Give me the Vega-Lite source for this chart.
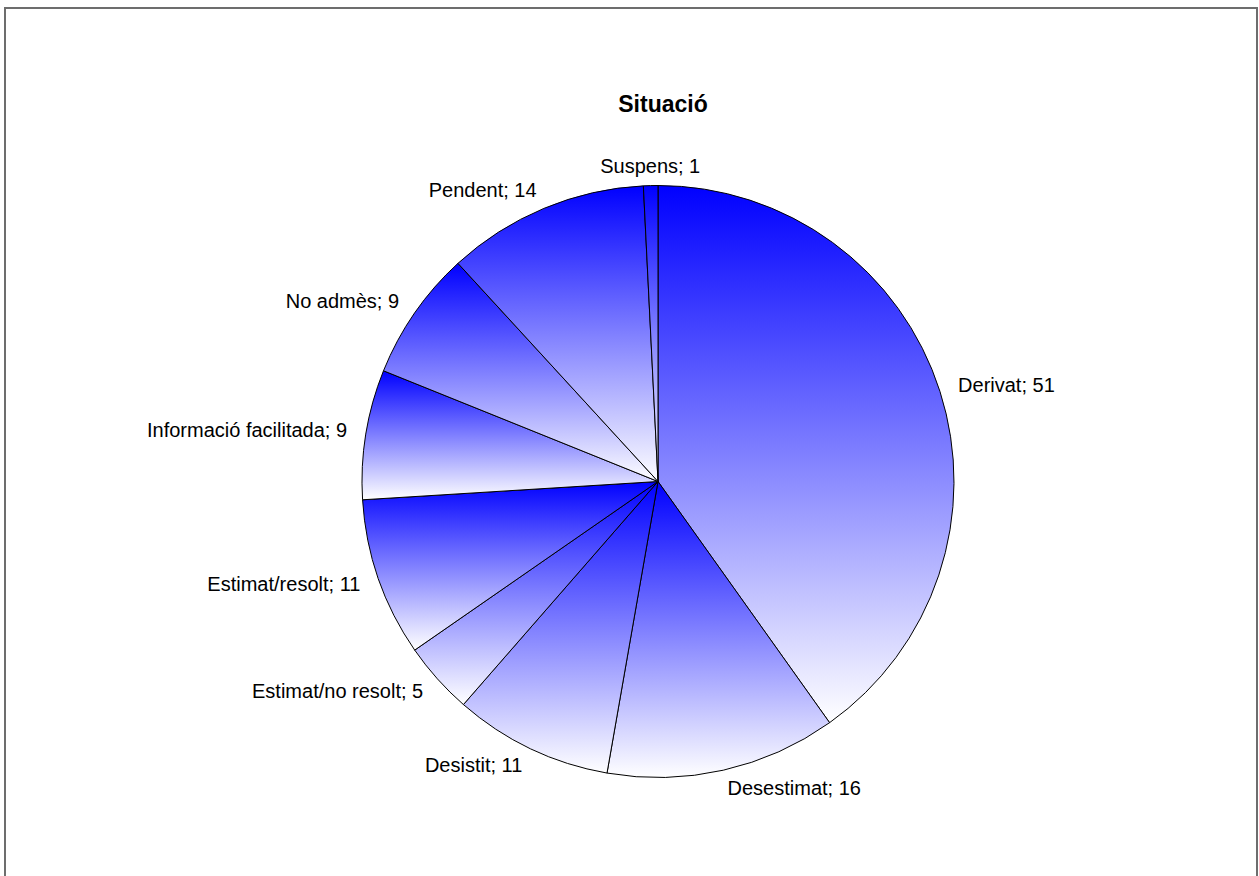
{
  "$schema": "https://vega.github.io/schema/vega-lite/v6.json",
  "autosize": "none",
  "width": 1252,
  "height": 869,
  "padding": {"left": 5, "top": 8, "right": 2, "bottom": 0},
  "background": "white",
  "title": {
    "text": "Situació",
    "font": "Liberation Sans",
    "fontSize": 23,
    "fontWeight": "bold",
    "color": "#000000",
    "anchor": "middle",
    "offset": -110,
    "dx": 32
  },
  "config": {
    "view": {"stroke": null}
  },
  "data": {
    "values": [
      {"situacio": "Derivat", "n": 51, "etiqueta": "Derivat; 51"},
      {"situacio": "Desestimat", "n": 16, "etiqueta": "Desestimat; 16"},
      {"situacio": "Desistit", "n": 11, "etiqueta": "Desistit; 11"},
      {"situacio": "Estimat/no resolt", "n": 5, "etiqueta": "Estimat/no resolt; 5"},
      {"situacio": "Estimat/resolt", "n": 11, "etiqueta": "Estimat/resolt; 11"},
      {"situacio": "Informació facilitada", "n": 9, "etiqueta": "Informació facilitada; 9"},
      {"situacio": "No admès", "n": 9, "etiqueta": "No admès; 9"},
      {"situacio": "Pendent", "n": 14, "etiqueta": "Pendent; 14"},
      {"situacio": "Suspens", "n": 1, "etiqueta": "Suspens; 1"}
    ]
  },
  "layer": [
    {
      "mark": {
        "type": "rect",
        "fill": "#ffffff",
        "fillOpacity": 0,
        "stroke": "#6e6e6e",
        "strokeWidth": 1.6
      },
      "encoding": {}
    },
    {
      "mark": {
        "type": "arc",
        "outerRadius": 296,
        "xOffset": 27,
        "yOffset": 39,
        "stroke": "#000000",
        "strokeWidth": 1,
        "fill": {
          "gradient": "linear",
          "x1": 0, "y1": 0, "x2": 0, "y2": 1,
          "stops": [
            {"offset": 0, "color": "#0000ff"},
            {"offset": 1, "color": "#ffffff"}
          ]
        }
      },
      "encoding": {
        "theta": {"field": "n", "type": "quantitative", "stack": true}
      }
    },
    {
      "mark": {
        "type": "text",
        "radius": 315,
        "xOffset": 27,
        "yOffset": 39,
        "font": "Liberation Sans",
        "fontSize": 20,
        "color": "#000000",
        "baseline": "middle",
        "align": {"expr": "datum.situacio == 'Suspens' ? 'center' : ((datum.situacio == 'Derivat' || datum.situacio == 'Desestimat') ? 'left' : 'right')"}
      },
      "encoding": {
        "theta": {"field": "n", "type": "quantitative", "stack": true},
        "text": {"field": "etiqueta", "type": "nominal"}
      }
    }
  ]
}
